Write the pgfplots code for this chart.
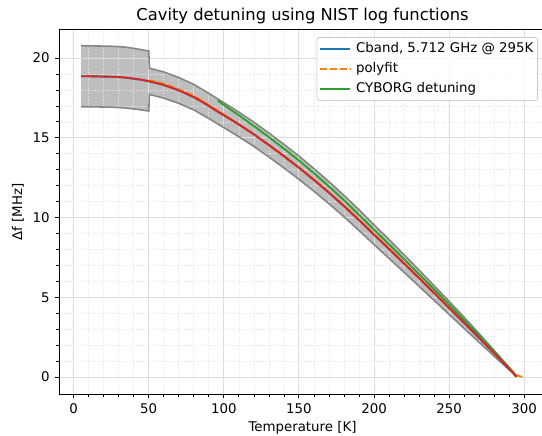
\documentclass[border=0pt]{standalone}
\usepackage{pgfplots}
\pgfplotsset{compat=1.18}
\usepackage{fontspec}
\setmainfont{DejaVu Sans}
\setsansfont{DejaVu Sans}
\definecolor{C0}{HTML}{1F77B4}
\definecolor{C1}{HTML}{FF7F0E}
\definecolor{C2}{HTML}{2CA02C}
\definecolor{C3}{HTML}{D62728}
\definecolor{bandfill}{HTML}{BEBEBE}
\definecolor{bandedge}{HTML}{858585}
\definecolor{gridmaj}{HTML}{DEDEDE}
\definecolor{gridmin}{HTML}{E6E6E6}
\definecolor{legedge}{HTML}{CCCCCC}
\begin{document}
\begin{tikzpicture}
\begin{axis}[
  set layers,
  scale only axis,
  width=487bp, height=364bp,
  xmin=-9.75, xmax=314.5,
  ymin=-1.06, ymax=21.76,
  xtick={0,50,...,300},
  ytick={0,5,...,20},
  minor x tick num=4,
  minor y tick num=4,
  tick align=outside,
  tick pos=left,
  major tick length=4.3bp,
  minor tick length=2.5bp,
  every tick/.style={black, line width=1bp},
  minor tick style={black, line width=0.75bp},
  axis line style={black, line width=1bp},
  grid=both,
  major grid style={color=gridmaj, line width=0.9bp, solid},
  minor grid style={color=gridmin, line width=0.7bp, dash pattern=on 0.9bp off 1.5bp},
  /pgf/number format/assume math mode=true,
  ticklabel style={font=\fontsize{13.4}{16}\selectfont},
  xticklabel style={yshift=-1.5bp},
  yticklabel style={xshift=-1.5bp},
  title={Cavity detuning using NIST log functions},
  title style={font=\fontsize{16.4}{19}\selectfont, at={(axis description cs:0.5,1.022)}, anchor=center, yshift=0pt},
  xlabel={Temperature [K]},
  xlabel style={font=\fontsize{13.4}{16}\selectfont, at={(axis description cs:0.5,-0.0934)}, anchor=center, yshift=0pt},
  ylabel={Δf [MHz]},
  ylabel style={font=\fontsize{13.4}{16}\selectfont, at={(axis description cs:-0.0842,0.5)}, anchor=center, xshift=0pt, yshift=0pt},
  legend style={at={(0.9836,0.9808)}, anchor=north east, draw=legedge, line width=0.8bp, rounded corners=2.5bp, fill=white, fill opacity=0.8, text opacity=1, font=\fontsize{13.4}{16}\selectfont, inner xsep=2bp, inner ysep=2bp, row sep=0bp, column sep=3bp,
    nodes={inner xsep=2.2bp, inner ysep=3.4bp, text height=10bp, text depth=2.9bp}},
  legend cell align=left,
  legend image code/.code={\draw[#1] (0bp,0bp) -- (30bp,0bp);},
]
\coordinate (ll) at (rel axis cs:0,0);
% uncertainty band fill
\addplot[fill=bandfill, draw=none, forget plot, on layer=axis background] coordinates {
(5,20.77)(10,20.77)(15,20.76)(20,20.75)(25,20.74)(30,20.72)(35,20.68)(40,20.61)(45,20.53)(50,20.44)(50.5,19.36)(60,19.13)(70,18.78)(80,18.35)(90,17.79)(100,17.2)(110,16.61)(120,15.98)(130,15.3)(140,14.59)(150,13.86)(160,13.07)(170,12.25)(180,11.39)(190,10.49)(200,9.55)(210,8.62)(220,7.67)(230,6.71)(240,5.73)(250,4.75)(260,3.75)(270,2.72)(280,1.67)(290,0.59)(295,0.03)
(290,0.45)(280,1.31)(270,2.18)(260,3.05)(250,3.93)(240,4.81)(230,5.69)(220,6.57)(210,7.44)(200,8.31)(190,9.19)(180,10.05)(170,10.87)(160,11.65)(150,12.4)(140,13.11)(130,13.8)(120,14.46)(110,15.07)(100,15.64)(90,16.21)(80,16.75)(70,17.16)(60,17.49)(50.5,17.72)(50,16.68)(45,16.75)(40,16.81)(35,16.86)(30,16.9)(25,16.92)(20,16.93)(15,16.94)(10,16.95)(5,16.95)
};
% band edges
\addplot[bandedge, line width=1.6bp, forget plot] coordinates {
(5,20.77)(10,20.77)(15,20.76)(20,20.75)(25,20.74)(30,20.72)(35,20.68)(40,20.61)(45,20.53)(50,20.44)(50.5,19.36)(60,19.13)(70,18.78)(80,18.35)(90,17.79)(100,17.2)(110,16.61)(120,15.98)(130,15.3)(140,14.59)(150,13.86)(160,13.07)(170,12.25)(180,11.39)(190,10.49)(200,9.55)(210,8.62)(220,7.67)(230,6.71)(240,5.73)(250,4.75)(260,3.75)(270,2.72)(280,1.67)(290,0.59)(295,0.03)
};
\addplot[bandedge, line width=1.6bp, forget plot] coordinates {
(5,16.95)(10,16.95)(15,16.94)(20,16.93)(25,16.92)(30,16.9)(35,16.86)(40,16.81)(45,16.75)(50,16.68)(50.5,17.72)(60,17.49)(70,17.16)(80,16.75)(90,16.21)(100,15.64)(110,15.07)(120,14.46)(130,13.8)(140,13.11)(150,12.4)(160,11.65)(170,10.87)(180,10.05)(190,9.19)(200,8.31)(210,7.44)(220,6.57)(230,5.69)(240,4.81)(250,3.93)(260,3.05)(270,2.18)(280,1.31)(290,0.45)(295,0.03)
};
% Cband
\addplot[C0, line width=1.85bp] coordinates {
(5,18.86)(10,18.86)(15,18.85)(20,18.84)(25,18.83)(30,18.81)(35,18.77)(40,18.71)(45,18.64)(50,18.55)(55,18.44)(60,18.31)(65,18.15)(70,17.97)(75,17.77)(80,17.55)(85,17.29)(90,17.0)(95,16.7)(100,16.42)(110,15.84)(120,15.22)(130,14.55)(140,13.85)(150,13.13)(160,12.36)(170,11.56)(180,10.72)(190,9.84)(200,8.93)(210,8.03)(220,7.12)(230,6.2)(240,5.27)(250,4.34)(260,3.4)(270,2.45)(280,1.49)(290,0.52)(295,0.03)
};
\addlegendentry{Cband, 5.712 GHz @ 295K}
% polyfit
\addplot[C1, line width=1.85bp, dash pattern=on 6.9bp off 3bp] coordinates {
(50,18.6)(55,18.52)(60,18.39)(65,18.23)(70,18.05)(75,17.85)(80,17.62)(85,17.36)(90,17.07)(95,16.77)(100,16.46)(110,15.84)(120,15.2)(130,14.52)(140,13.82)(150,13.12)(160,12.38)(170,11.59)(180,10.76)(190,9.88)(200,8.97)(210,8.07)(220,7.16)(230,6.24)(240,5.31)(250,4.38)(260,3.45)(270,2.51)(280,1.55)(290,0.59)(295,0.11)(300,-0.02)
};
\addlegendentry{polyfit}
% CYBORG
\addplot[C2, line width=1.85bp] coordinates {
(96,17.33)(100,17.06)(110,16.41)(120,15.74)(130,15.04)(140,14.32)(150,13.58)(160,12.78)(170,11.95)(180,11.09)(190,10.17)(200,9.24)(210,8.32)(220,7.39)(230,6.45)(240,5.5)(250,4.55)(260,3.58)(270,2.6)(280,1.61)(290,0.58)(294.5,0.02)
};
\addlegendentry{CYBORG detuning}
% red curve
\addplot[C3, line width=1.9bp, forget plot] coordinates {
(5,18.86)(10,18.86)(15,18.85)(20,18.84)(25,18.83)(30,18.81)(35,18.77)(40,18.71)(45,18.64)(50,18.55)(55,18.44)(60,18.31)(65,18.15)(70,17.97)(75,17.77)(80,17.55)(85,17.29)(90,17.0)(95,16.7)(100,16.42)(110,15.84)(120,15.22)(130,14.55)(140,13.85)(150,13.13)(160,12.36)(170,11.56)(180,10.72)(190,9.84)(200,8.93)(210,8.03)(220,7.12)(230,6.2)(240,5.27)(250,4.34)(260,3.4)(270,2.45)(280,1.49)(290,0.52)(295,0.03)
};
\end{axis}
\pgfresetboundingbox
\path ([shift={(-59bp,-42bp)}]ll) rectangle ([shift={(483bp,394bp)}]ll);
\end{tikzpicture}
\end{document}
